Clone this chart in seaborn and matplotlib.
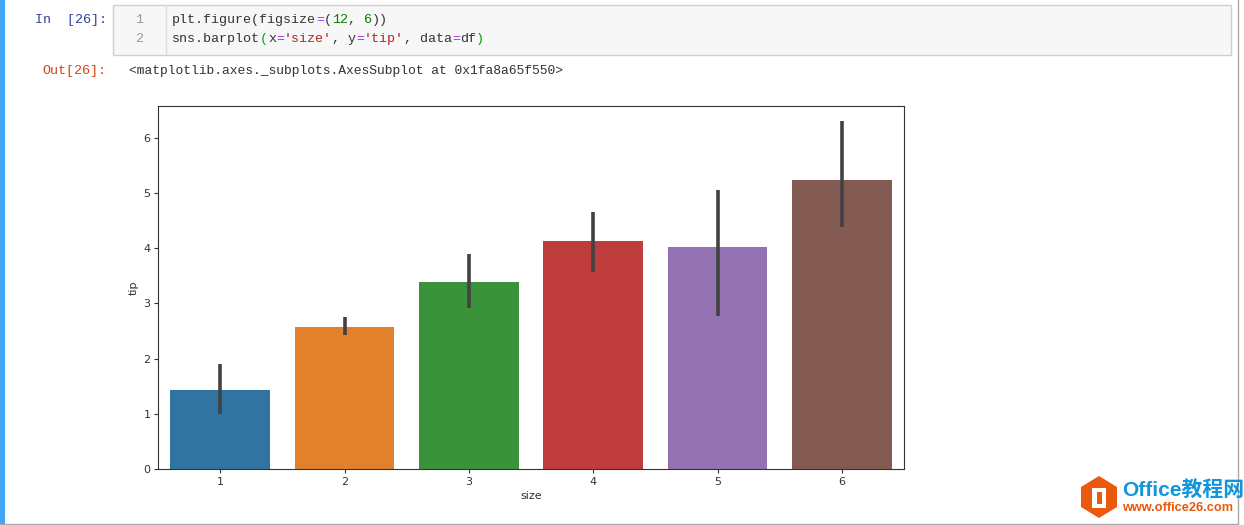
#!/usr/bin/env python
# -*- coding: utf-8 -*-

import pandas as pd
import matplotlib.pyplot as plt
import matplotlib.patches as mpatches
import seaborn as sns

# values
sizes = [1, 2, 3, 4, 5, 6]
tip_mean = [1.44, 2.58, 3.39, 4.14, 4.03, 5.23]
tip_low = [1.00, 2.42, 2.92, 3.57, 2.78, 4.38]
tip_high = [1.90, 2.75, 3.89, 4.66, 5.05, 6.30]
y_ticks = [0, 1, 2, 3, 4, 5, 6]

code_line_1 = [('plt.figure(figsize', '#333333'), ('=', '#AA22FF'), ('(', '#333333'),
               ('12', '#008000'), (', ', '#333333'), ('6', '#008000'), ('))', '#333333')]
code_line_2 = [('sns.barplot', '#333333'), ('(', '#00A000'), ('x', '#333333'), ('=', '#AA22FF'),
               ("'size'", '#BA2121'), (', y', '#333333'), ('=', '#AA22FF'), ("'tip'", '#BA2121'),
               (', data', '#333333'), ('=', '#AA22FF'), ('df', '#333333'), (')', '#00A000')]
out_text = '<matplotlib.axes._subplots.AxesSubplot at 0x1fa8a65f550>'

W, H = 1244, 525
MONO = 'Liberation Mono'
LOGO_FONTS = ['Liberation Sans', 'Noto Sans CJK SC']


def draw_code(ax, x, y, pieces, char_w=8.0):
    # one text per coloured token, monospace so the advance is fixed
    for txt, col in pieces:
        ax.text(x, y, txt, family=MONO, fontsize=9.6, color=col, va='center', ha='left')
        x += len(txt) * char_w


def draw_notebook(fig):
    # overlay in pixel coordinates for the notebook page around the chart
    bg = fig.add_axes([0, 0, 1, 1], zorder=0)
    bg.set_xlim(0, W)
    bg.set_ylim(H, 0)
    bg.axis('off')

    bg.add_patch(mpatches.Rectangle((0, 0), 5, H, color='#42A5F5', lw=0))
    bg.plot([1238, 1238], [0, 523], color='#ABABAB', lw=1)
    bg.plot([0, 1238], [523.5, 523.5], color='#ABABAB', lw=1)

    bg.add_patch(mpatches.Rectangle((113, 4.5), 1118, 50, facecolor='#F7F7F7', edgecolor='#CFCFCF', lw=1))
    bg.plot([165.5, 165.5], [5, 54], color='#DDDDDD', lw=1)

    bg.text(35, 20, 'In  [26]:', family=MONO, fontsize=9.6, color='#303F9F', va='center')
    bg.text(42, 71, 'Out[26]:', family=MONO, fontsize=9.6, color='#D84315', va='center')
    bg.text(139, 20, '1', family=MONO, fontsize=9.6, color='#999999', va='center', ha='center')
    bg.text(139, 39, '2', family=MONO, fontsize=9.6, color='#999999', va='center', ha='center')
    draw_code(bg, 172, 20, code_line_1)
    draw_code(bg, 172, 39, code_line_2)
    bg.text(129, 71, out_text, family=MONO, fontsize=9.35, color='#333333', va='center')

    # logo, bottom right
    hexagon = [(1099, 476), (1117, 487), (1117, 507), (1099, 518), (1081, 507), (1081, 487)]
    bg.add_patch(mpatches.Polygon(hexagon, closed=True, facecolor='#EB5A0C', lw=0))
    bg.add_patch(mpatches.Rectangle((1092, 488), 14, 20, facecolor='white', lw=0))
    bg.add_patch(mpatches.Rectangle((1097, 492), 5, 12, facecolor='#EB5A0C', lw=0))
    bg.text(1122, 490, 'Office教程网', family=LOGO_FONTS, fontsize=15,
            fontweight='bold', color='#1296DB', va='center')
    bg.text(1122, 508, 'www.office26.com', family='Liberation Sans', fontsize=9.2,
            fontweight='bold', color='#E8590C', va='center')


def main():
    # each size gets low/mean/high, median gives the bar and min/max the error line
    df = pd.DataFrame({
        'size': sizes * 3,
        'tip': tip_low + tip_mean + tip_high,
    })

    fig = plt.figure(figsize=(W / 100, H / 100), dpi=100, facecolor='white')
    draw_notebook(fig)

    ax = fig.add_axes([158 / W, 1 - 469 / H, (904 - 158) / W, (469 - 106) / H], zorder=1)
    sns.barplot(x='size', y='tip', data=df, hue='size', palette='tab10', legend=False,
                estimator='median', errorbar=lambda v: (v.min(), v.max()),
                err_kws={'linewidth': 2.6, 'color': '#424242', 'solid_capstyle': 'butt'}, ax=ax)
    ax.set_yticks(y_ticks)
    ax.set_ylim(0, 6.58)
    ax.tick_params(labelsize=8, colors='#333333', length=3, width=0.8, pad=2.5)
    ax.set_xlabel('size', fontsize=8, color='#333333', labelpad=3)
    ax.set_ylabel('tip', fontsize=8, color='#333333', labelpad=3)
    for spine in ax.spines.values():
        spine.set_color('#333333')
        spine.set_linewidth(0.8)

    fig.savefig('out.png', dpi=100)
    plt.close(fig)


if __name__ == '__main__':
    main()
